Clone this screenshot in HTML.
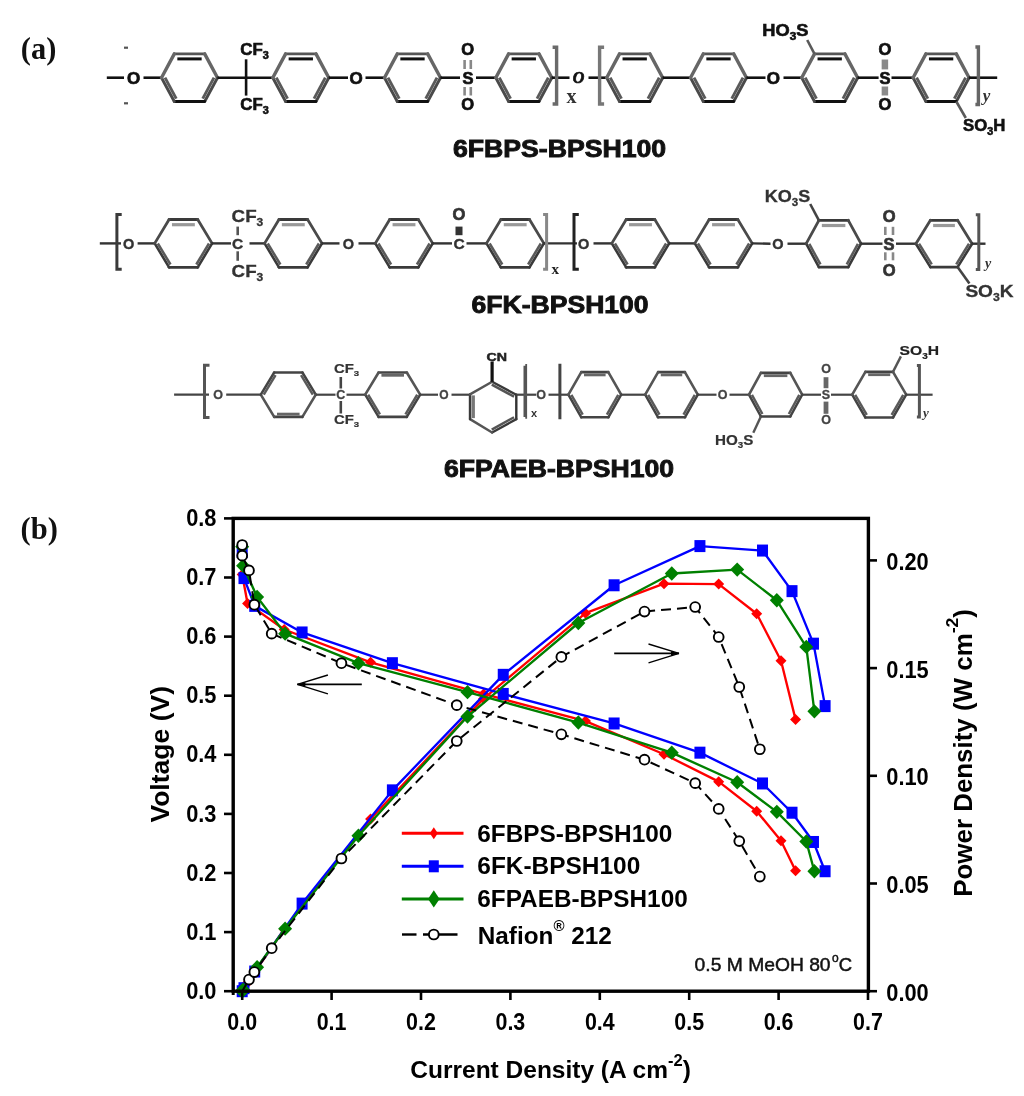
<!DOCTYPE html>
<html><head><meta charset="utf-8"><title>Figure</title>
<style>html,body{margin:0;padding:0;background:#fff;}svg{display:block;filter:blur(0.3px);}</style>
</head><body>
<svg width="1024" height="1096" viewBox="0 0 1024 1096">
<rect x="0" y="0" width="1024" height="1096" fill="#fff"/>
<text x="20.8" y="59" font-family="'Liberation Serif', 'Times New Roman', serif" font-size="31.5" font-weight="bold" text-anchor="start" fill="#111" textLength="35.5" lengthAdjust="spacingAndGlyphs">(a)</text>
<text x="20.5" y="539.4" font-family="'Liberation Serif', 'Times New Roman', serif" font-size="31.5" font-weight="bold" text-anchor="start" fill="#111" textLength="37.3" lengthAdjust="spacingAndGlyphs">(b)</text>
<line x1="106.8" y1="77.7" x2="124" y2="77.7" stroke="#111" stroke-width="2.6" stroke-linecap="butt"/>
<rect x="124" y="46.6" width="4" height="2.2" fill="#555"/>
<rect x="124" y="102.2" width="4" height="2.2" fill="#555"/>
<text x="133.5" y="83.82" font-family="'Liberation Sans', Arial, sans-serif" font-size="17" font-weight="bold" text-anchor="middle" fill="#111" stroke="#111" stroke-width="0.7">O</text>
<line x1="143.5" y1="77.7" x2="161.5" y2="77.7" stroke="#111" stroke-width="2.6" stroke-linecap="butt"/>
<line x1="174.3" y1="53.9" x2="204.7" y2="53.9" stroke="#555" stroke-width="2.8" stroke-linecap="round"/>
<line x1="177.34" y1="58.9" x2="201.66" y2="58.9" stroke="#111" stroke-width="3" stroke-linecap="butt"/>
<line x1="204.7" y1="53.9" x2="217.5" y2="77.7" stroke="#666" stroke-width="3.4" stroke-linecap="round"/>
<line x1="217.5" y1="77.7" x2="204.7" y2="101.5" stroke="#4a4a4a" stroke-width="2.9" stroke-linecap="round"/>
<line x1="214" y1="77.66" x2="202.74" y2="98.6" stroke="#5a5a5a" stroke-width="2.9" stroke-linecap="butt"/>
<line x1="204.7" y1="101.5" x2="174.3" y2="101.5" stroke="#111" stroke-width="2.8" stroke-linecap="round"/>
<line x1="174.3" y1="101.5" x2="161.5" y2="77.7" stroke="#4a4a4a" stroke-width="2.9" stroke-linecap="round"/>
<line x1="176.26" y1="98.6" x2="165" y2="77.66" stroke="#5a5a5a" stroke-width="2.9" stroke-linecap="butt"/>
<line x1="161.5" y1="77.7" x2="174.3" y2="53.9" stroke="#666" stroke-width="3.4" stroke-linecap="round"/>
<line x1="217.5" y1="77.7" x2="272.8" y2="77.7" stroke="#111" stroke-width="2.6" stroke-linecap="butt"/>
<line x1="246.1" y1="59.3" x2="246.1" y2="95.6" stroke="#111" stroke-width="2.6" stroke-linecap="butt"/>
<text x="240.3" y="54.5" font-family="'Liberation Sans', Arial, sans-serif" font-size="16" font-weight="bold" fill="#111" stroke="#111" stroke-width="0.6" text-anchor="start" textLength="28.5" lengthAdjust="spacingAndGlyphs"><tspan dy="0">CF</tspan><tspan dy="4.16" font-size="10.24">3</tspan></text>
<text x="240.3" y="110.2" font-family="'Liberation Sans', Arial, sans-serif" font-size="16" font-weight="bold" fill="#111" stroke="#111" stroke-width="0.6" text-anchor="start" textLength="28.5" lengthAdjust="spacingAndGlyphs"><tspan dy="0">CF</tspan><tspan dy="4.16" font-size="10.24">3</tspan></text>
<line x1="285.6" y1="53.9" x2="316" y2="53.9" stroke="#555" stroke-width="2.8" stroke-linecap="round"/>
<line x1="288.64" y1="58.9" x2="312.96" y2="58.9" stroke="#111" stroke-width="3" stroke-linecap="butt"/>
<line x1="316" y1="53.9" x2="328.8" y2="77.7" stroke="#666" stroke-width="3.4" stroke-linecap="round"/>
<line x1="328.8" y1="77.7" x2="316" y2="101.5" stroke="#4a4a4a" stroke-width="2.9" stroke-linecap="round"/>
<line x1="325.3" y1="77.66" x2="314.04" y2="98.6" stroke="#5a5a5a" stroke-width="2.9" stroke-linecap="butt"/>
<line x1="316" y1="101.5" x2="285.6" y2="101.5" stroke="#111" stroke-width="2.8" stroke-linecap="round"/>
<line x1="285.6" y1="101.5" x2="272.8" y2="77.7" stroke="#4a4a4a" stroke-width="2.9" stroke-linecap="round"/>
<line x1="287.56" y1="98.6" x2="276.3" y2="77.66" stroke="#5a5a5a" stroke-width="2.9" stroke-linecap="butt"/>
<line x1="272.8" y1="77.7" x2="285.6" y2="53.9" stroke="#666" stroke-width="3.4" stroke-linecap="round"/>
<line x1="328.8" y1="77.7" x2="348" y2="77.7" stroke="#111" stroke-width="2.6" stroke-linecap="butt"/>
<text x="356" y="83.82" font-family="'Liberation Sans', Arial, sans-serif" font-size="17" font-weight="bold" text-anchor="middle" fill="#111" stroke="#111" stroke-width="0.7">O</text>
<line x1="365.5" y1="77.7" x2="384.5" y2="77.7" stroke="#111" stroke-width="2.6" stroke-linecap="butt"/>
<line x1="397.3" y1="53.9" x2="427.7" y2="53.9" stroke="#555" stroke-width="2.8" stroke-linecap="round"/>
<line x1="400.34" y1="58.9" x2="424.66" y2="58.9" stroke="#111" stroke-width="3" stroke-linecap="butt"/>
<line x1="427.7" y1="53.9" x2="440.5" y2="77.7" stroke="#666" stroke-width="3.4" stroke-linecap="round"/>
<line x1="440.5" y1="77.7" x2="427.7" y2="101.5" stroke="#4a4a4a" stroke-width="2.9" stroke-linecap="round"/>
<line x1="437" y1="77.66" x2="425.74" y2="98.6" stroke="#5a5a5a" stroke-width="2.9" stroke-linecap="butt"/>
<line x1="427.7" y1="101.5" x2="397.3" y2="101.5" stroke="#111" stroke-width="2.8" stroke-linecap="round"/>
<line x1="397.3" y1="101.5" x2="384.5" y2="77.7" stroke="#4a4a4a" stroke-width="2.9" stroke-linecap="round"/>
<line x1="399.26" y1="98.6" x2="388" y2="77.66" stroke="#5a5a5a" stroke-width="2.9" stroke-linecap="butt"/>
<line x1="384.5" y1="77.7" x2="397.3" y2="53.9" stroke="#666" stroke-width="3.4" stroke-linecap="round"/>
<line x1="440.5" y1="77.7" x2="460" y2="77.7" stroke="#111" stroke-width="2.6" stroke-linecap="butt"/>
<text x="468" y="83.64" font-family="'Liberation Sans', Arial, sans-serif" font-size="16.5" font-weight="bold" text-anchor="middle" fill="#111" stroke="#111" stroke-width="0.7">S</text>
<text x="467.7" y="55.24" font-family="'Liberation Sans', Arial, sans-serif" font-size="16.5" font-weight="bold" text-anchor="middle" fill="#111" stroke="#111" stroke-width="0.7">O</text>
<text x="467.7" y="109.94" font-family="'Liberation Sans', Arial, sans-serif" font-size="16.5" font-weight="bold" text-anchor="middle" fill="#111" stroke="#111" stroke-width="0.7">O</text>
<line x1="464.6" y1="60" x2="464.6" y2="69" stroke="#888" stroke-width="2.6" stroke-linecap="butt"/>
<line x1="464.6" y1="87" x2="464.6" y2="95.5" stroke="#888" stroke-width="2.6" stroke-linecap="butt"/>
<line x1="470.8" y1="60" x2="470.8" y2="69" stroke="#888" stroke-width="2.6" stroke-linecap="butt"/>
<line x1="470.8" y1="87" x2="470.8" y2="95.5" stroke="#888" stroke-width="2.6" stroke-linecap="butt"/>
<line x1="476" y1="77.7" x2="495.8" y2="77.7" stroke="#111" stroke-width="2.6" stroke-linecap="butt"/>
<line x1="508.6" y1="53.9" x2="539" y2="53.9" stroke="#555" stroke-width="2.8" stroke-linecap="round"/>
<line x1="511.64" y1="58.9" x2="535.96" y2="58.9" stroke="#111" stroke-width="3" stroke-linecap="butt"/>
<line x1="539" y1="53.9" x2="551.8" y2="77.7" stroke="#666" stroke-width="3.4" stroke-linecap="round"/>
<line x1="551.8" y1="77.7" x2="539" y2="101.5" stroke="#4a4a4a" stroke-width="2.9" stroke-linecap="round"/>
<line x1="548.3" y1="77.66" x2="537.04" y2="98.6" stroke="#5a5a5a" stroke-width="2.9" stroke-linecap="butt"/>
<line x1="539" y1="101.5" x2="508.6" y2="101.5" stroke="#111" stroke-width="2.8" stroke-linecap="round"/>
<line x1="508.6" y1="101.5" x2="495.8" y2="77.7" stroke="#4a4a4a" stroke-width="2.9" stroke-linecap="round"/>
<line x1="510.56" y1="98.6" x2="499.3" y2="77.66" stroke="#5a5a5a" stroke-width="2.9" stroke-linecap="butt"/>
<line x1="495.8" y1="77.7" x2="508.6" y2="53.9" stroke="#666" stroke-width="3.4" stroke-linecap="round"/>
<line x1="551.8" y1="77.7" x2="569.5" y2="77.7" stroke="#111" stroke-width="2.6" stroke-linecap="butt"/>
<path d="M552.6 47.3 H556.6 V104 H552.6" fill="none" stroke="#6a6a6a" stroke-width="3.4"/>
<text x="566.5" y="103.2" font-family="'Liberation Serif', 'Times New Roman', serif" font-size="20" font-weight="bold" text-anchor="start" fill="#333">x</text>
<text x="578.5" y="83.46" font-family="'Liberation Serif', 'Times New Roman', serif" font-size="16" font-weight="bold" text-anchor="middle" fill="#111" font-style="italic" stroke="#111" stroke-width="0.7">O</text>
<line x1="588.5" y1="77.7" x2="607" y2="77.7" stroke="#111" stroke-width="2.6" stroke-linecap="butt"/>
<path d="M604.1 47.3 H599.6 V104 H604.1" fill="none" stroke="#777" stroke-width="3.4"/>
<line x1="619.5" y1="53.9" x2="649.9" y2="53.9" stroke="#555" stroke-width="2.8" stroke-linecap="round"/>
<line x1="622.54" y1="58.9" x2="646.86" y2="58.9" stroke="#111" stroke-width="3" stroke-linecap="butt"/>
<line x1="649.9" y1="53.9" x2="662.7" y2="77.7" stroke="#666" stroke-width="3.4" stroke-linecap="round"/>
<line x1="662.7" y1="77.7" x2="649.9" y2="101.5" stroke="#4a4a4a" stroke-width="2.9" stroke-linecap="round"/>
<line x1="659.2" y1="77.66" x2="647.94" y2="98.6" stroke="#5a5a5a" stroke-width="2.9" stroke-linecap="butt"/>
<line x1="649.9" y1="101.5" x2="619.5" y2="101.5" stroke="#111" stroke-width="2.8" stroke-linecap="round"/>
<line x1="619.5" y1="101.5" x2="606.7" y2="77.7" stroke="#4a4a4a" stroke-width="2.9" stroke-linecap="round"/>
<line x1="621.46" y1="98.6" x2="610.2" y2="77.66" stroke="#5a5a5a" stroke-width="2.9" stroke-linecap="butt"/>
<line x1="606.7" y1="77.7" x2="619.5" y2="53.9" stroke="#666" stroke-width="3.4" stroke-linecap="round"/>
<line x1="662.7" y1="77.7" x2="690.5" y2="77.7" stroke="#111" stroke-width="2.6" stroke-linecap="butt"/>
<line x1="703.3" y1="53.9" x2="733.7" y2="53.9" stroke="#555" stroke-width="2.8" stroke-linecap="round"/>
<line x1="706.34" y1="58.9" x2="730.66" y2="58.9" stroke="#111" stroke-width="3" stroke-linecap="butt"/>
<line x1="733.7" y1="53.9" x2="746.5" y2="77.7" stroke="#666" stroke-width="3.4" stroke-linecap="round"/>
<line x1="746.5" y1="77.7" x2="733.7" y2="101.5" stroke="#4a4a4a" stroke-width="2.9" stroke-linecap="round"/>
<line x1="743" y1="77.66" x2="731.74" y2="98.6" stroke="#5a5a5a" stroke-width="2.9" stroke-linecap="butt"/>
<line x1="733.7" y1="101.5" x2="703.3" y2="101.5" stroke="#111" stroke-width="2.8" stroke-linecap="round"/>
<line x1="703.3" y1="101.5" x2="690.5" y2="77.7" stroke="#4a4a4a" stroke-width="2.9" stroke-linecap="round"/>
<line x1="705.26" y1="98.6" x2="694" y2="77.66" stroke="#5a5a5a" stroke-width="2.9" stroke-linecap="butt"/>
<line x1="690.5" y1="77.7" x2="703.3" y2="53.9" stroke="#666" stroke-width="3.4" stroke-linecap="round"/>
<line x1="746.5" y1="77.7" x2="765.5" y2="77.7" stroke="#111" stroke-width="2.6" stroke-linecap="butt"/>
<text x="773.4" y="83.82" font-family="'Liberation Sans', Arial, sans-serif" font-size="17" font-weight="bold" text-anchor="middle" fill="#111" stroke="#111" stroke-width="0.7">O</text>
<line x1="783.5" y1="77.7" x2="802" y2="77.7" stroke="#111" stroke-width="2.6" stroke-linecap="butt"/>
<line x1="814.5" y1="53.9" x2="844.9" y2="53.9" stroke="#555" stroke-width="2.8" stroke-linecap="round"/>
<line x1="817.54" y1="58.9" x2="841.86" y2="58.9" stroke="#111" stroke-width="3" stroke-linecap="butt"/>
<line x1="844.9" y1="53.9" x2="857.7" y2="77.7" stroke="#666" stroke-width="3.4" stroke-linecap="round"/>
<line x1="857.7" y1="77.7" x2="844.9" y2="101.5" stroke="#4a4a4a" stroke-width="2.9" stroke-linecap="round"/>
<line x1="854.2" y1="77.66" x2="842.94" y2="98.6" stroke="#5a5a5a" stroke-width="2.9" stroke-linecap="butt"/>
<line x1="844.9" y1="101.5" x2="814.5" y2="101.5" stroke="#111" stroke-width="2.8" stroke-linecap="round"/>
<line x1="814.5" y1="101.5" x2="801.7" y2="77.7" stroke="#4a4a4a" stroke-width="2.9" stroke-linecap="round"/>
<line x1="816.46" y1="98.6" x2="805.2" y2="77.66" stroke="#5a5a5a" stroke-width="2.9" stroke-linecap="butt"/>
<line x1="801.7" y1="77.7" x2="814.5" y2="53.9" stroke="#666" stroke-width="3.4" stroke-linecap="round"/>
<line x1="814.5" y1="53.9" x2="807.2" y2="40" stroke="#5a5a5a" stroke-width="2.6" stroke-linecap="butt"/>
<text x="762.3" y="36.2" font-family="'Liberation Sans', Arial, sans-serif" font-size="16" font-weight="bold" fill="#111" stroke="#111" stroke-width="0.6" text-anchor="start" textLength="46" lengthAdjust="spacingAndGlyphs"><tspan dy="0">HO</tspan><tspan dy="4.16" font-size="10.24">3</tspan><tspan dy="-4.16">S</tspan></text>
<line x1="857.7" y1="77.7" x2="878.6" y2="77.7" stroke="#111" stroke-width="2.6" stroke-linecap="butt"/>
<text x="884.9" y="83.64" font-family="'Liberation Sans', Arial, sans-serif" font-size="16.5" font-weight="bold" text-anchor="middle" fill="#111" stroke="#111" stroke-width="0.7">S</text>
<text x="884.9" y="54.74" font-family="'Liberation Sans', Arial, sans-serif" font-size="16.5" font-weight="bold" text-anchor="middle" fill="#111" stroke="#111" stroke-width="0.7">O</text>
<text x="884.9" y="109.54" font-family="'Liberation Sans', Arial, sans-serif" font-size="16.5" font-weight="bold" text-anchor="middle" fill="#111" stroke="#111" stroke-width="0.7">O</text>
<line x1="884.9" y1="59.5" x2="884.9" y2="69.4" stroke="#8a8a8a" stroke-width="6.5" stroke-linecap="butt"/>
<line x1="884.9" y1="86.5" x2="884.9" y2="95.5" stroke="#8a8a8a" stroke-width="6.5" stroke-linecap="butt"/>
<line x1="891.5" y1="77.7" x2="913" y2="77.7" stroke="#111" stroke-width="2.6" stroke-linecap="butt"/>
<line x1="925.9" y1="53.9" x2="956.3" y2="53.9" stroke="#555" stroke-width="2.8" stroke-linecap="round"/>
<line x1="928.94" y1="58.9" x2="953.26" y2="58.9" stroke="#111" stroke-width="3" stroke-linecap="butt"/>
<line x1="956.3" y1="53.9" x2="969.1" y2="77.7" stroke="#666" stroke-width="3.4" stroke-linecap="round"/>
<line x1="969.1" y1="77.7" x2="956.3" y2="101.5" stroke="#4a4a4a" stroke-width="2.9" stroke-linecap="round"/>
<line x1="965.6" y1="77.66" x2="954.34" y2="98.6" stroke="#5a5a5a" stroke-width="2.9" stroke-linecap="butt"/>
<line x1="956.3" y1="101.5" x2="925.9" y2="101.5" stroke="#111" stroke-width="2.8" stroke-linecap="round"/>
<line x1="925.9" y1="101.5" x2="913.1" y2="77.7" stroke="#4a4a4a" stroke-width="2.9" stroke-linecap="round"/>
<line x1="927.86" y1="98.6" x2="916.6" y2="77.66" stroke="#5a5a5a" stroke-width="2.9" stroke-linecap="butt"/>
<line x1="913.1" y1="77.7" x2="925.9" y2="53.9" stroke="#666" stroke-width="3.4" stroke-linecap="round"/>
<line x1="956.3" y1="101.5" x2="965.8" y2="118" stroke="#5a5a5a" stroke-width="2.6" stroke-linecap="butt"/>
<text x="963.1" y="130.6" font-family="'Liberation Sans', Arial, sans-serif" font-size="16" font-weight="bold" fill="#111" stroke="#111" stroke-width="0.6" text-anchor="start" textLength="42.2" lengthAdjust="spacingAndGlyphs"><tspan dy="0">SO</tspan><tspan dy="4.16" font-size="10.24">3</tspan><tspan dy="-4.16">H</tspan></text>
<line x1="969.1" y1="77.7" x2="997.2" y2="77.7" stroke="#111" stroke-width="2.6" stroke-linecap="butt"/>
<path d="M975.4 47 H978.4 V104.5 H975.4" fill="none" stroke="#666" stroke-width="3.4"/>
<text x="982.8" y="100.5" font-family="'Liberation Serif', 'Times New Roman', serif" font-size="17" font-weight="bold" text-anchor="start" fill="#333" font-style="italic">y</text>
<text x="452.9" y="156.6" font-family="'Liberation Sans', Arial, sans-serif" font-size="24" font-weight="bold" text-anchor="start" fill="#111" textLength="213.3" lengthAdjust="spacingAndGlyphs" stroke="#111" stroke-width="0.9">6FBPS-BPSH100</text>
<line x1="99.8" y1="243.4" x2="121" y2="243.4" stroke="#333" stroke-width="2.4" stroke-linecap="butt"/>
<path d="M121.7 214.4 H116.9 V269.3 H121.7" fill="none" stroke="#3a3a3a" stroke-width="3"/>
<text x="128.6" y="248.62" font-family="'Liberation Sans', Arial, sans-serif" font-size="14.5" font-weight="bold" text-anchor="middle" fill="#333" stroke="#333" stroke-width="0.4">O</text>
<line x1="137.6" y1="243.4" x2="155" y2="243.4" stroke="#333" stroke-width="2.4" stroke-linecap="butt"/>
<line x1="169.1" y1="219.5" x2="197.7" y2="219.5" stroke="#3a3a3a" stroke-width="2.8" stroke-linecap="round"/>
<line x1="171.96" y1="224.7" x2="194.84" y2="224.7" stroke="#999" stroke-width="3.2" stroke-linecap="butt"/>
<line x1="197.7" y1="219.5" x2="212.1" y2="243.4" stroke="#4a4a4a" stroke-width="2.8" stroke-linecap="round"/>
<line x1="212.1" y1="243.4" x2="197.7" y2="267.3" stroke="#3a3a3a" stroke-width="2.6" stroke-linecap="round"/>
<line x1="209.01" y1="243.49" x2="196.34" y2="264.52" stroke="#5a5a5a" stroke-width="2.6" stroke-linecap="butt"/>
<line x1="197.7" y1="267.3" x2="169.1" y2="267.3" stroke="#3a3a3a" stroke-width="2.8" stroke-linecap="round"/>
<line x1="169.1" y1="267.3" x2="154.7" y2="243.4" stroke="#3a3a3a" stroke-width="2.6" stroke-linecap="round"/>
<line x1="170.46" y1="264.52" x2="157.79" y2="243.49" stroke="#5a5a5a" stroke-width="2.6" stroke-linecap="butt"/>
<line x1="154.7" y1="243.4" x2="169.1" y2="219.5" stroke="#4a4a4a" stroke-width="2.8" stroke-linecap="round"/>
<line x1="212" y1="243.4" x2="231" y2="243.4" stroke="#333" stroke-width="2.4" stroke-linecap="butt"/>
<text x="237.7" y="248.98" font-family="'Liberation Sans', Arial, sans-serif" font-size="15.5" font-weight="bold" text-anchor="middle" fill="#333" stroke="#333" stroke-width="0.4">C</text>
<line x1="237.7" y1="226.6" x2="237.7" y2="235.2" stroke="#555" stroke-width="2.6" stroke-linecap="butt"/>
<line x1="237.7" y1="251.3" x2="237.7" y2="260.8" stroke="#555" stroke-width="2.6" stroke-linecap="butt"/>
<text x="231.6" y="221.8" font-family="'Liberation Sans', Arial, sans-serif" font-size="17" font-weight="bold" fill="#333" stroke="#333" stroke-width="0.3" text-anchor="start" textLength="31.7" lengthAdjust="spacingAndGlyphs"><tspan dy="0">CF</tspan><tspan dy="4.42" font-size="10.88">3</tspan></text>
<text x="231.6" y="276.8" font-family="'Liberation Sans', Arial, sans-serif" font-size="17" font-weight="bold" fill="#333" stroke="#333" stroke-width="0.3" text-anchor="start" textLength="31.7" lengthAdjust="spacingAndGlyphs"><tspan dy="0">CF</tspan><tspan dy="4.42" font-size="10.88">3</tspan></text>
<line x1="249.5" y1="243.4" x2="264.8" y2="243.4" stroke="#333" stroke-width="2.4" stroke-linecap="butt"/>
<line x1="279" y1="219.5" x2="307.6" y2="219.5" stroke="#3a3a3a" stroke-width="2.8" stroke-linecap="round"/>
<line x1="281.86" y1="224.7" x2="304.74" y2="224.7" stroke="#999" stroke-width="3.2" stroke-linecap="butt"/>
<line x1="307.6" y1="219.5" x2="322" y2="243.4" stroke="#4a4a4a" stroke-width="2.8" stroke-linecap="round"/>
<line x1="322" y1="243.4" x2="307.6" y2="267.3" stroke="#3a3a3a" stroke-width="2.6" stroke-linecap="round"/>
<line x1="318.91" y1="243.49" x2="306.24" y2="264.52" stroke="#5a5a5a" stroke-width="2.6" stroke-linecap="butt"/>
<line x1="307.6" y1="267.3" x2="279" y2="267.3" stroke="#3a3a3a" stroke-width="2.8" stroke-linecap="round"/>
<line x1="279" y1="267.3" x2="264.6" y2="243.4" stroke="#3a3a3a" stroke-width="2.6" stroke-linecap="round"/>
<line x1="280.36" y1="264.52" x2="267.69" y2="243.49" stroke="#5a5a5a" stroke-width="2.6" stroke-linecap="butt"/>
<line x1="264.6" y1="243.4" x2="279" y2="219.5" stroke="#4a4a4a" stroke-width="2.8" stroke-linecap="round"/>
<line x1="322" y1="243.4" x2="339.5" y2="243.4" stroke="#333" stroke-width="2.4" stroke-linecap="butt"/>
<text x="348.5" y="248.62" font-family="'Liberation Sans', Arial, sans-serif" font-size="14.5" font-weight="bold" text-anchor="middle" fill="#333" stroke="#333" stroke-width="0.4">O</text>
<line x1="358.5" y1="243.4" x2="376" y2="243.4" stroke="#333" stroke-width="2.4" stroke-linecap="butt"/>
<line x1="389.7" y1="219.5" x2="418.3" y2="219.5" stroke="#3a3a3a" stroke-width="2.8" stroke-linecap="round"/>
<line x1="392.56" y1="224.7" x2="415.44" y2="224.7" stroke="#999" stroke-width="3.2" stroke-linecap="butt"/>
<line x1="418.3" y1="219.5" x2="432.7" y2="243.4" stroke="#4a4a4a" stroke-width="2.8" stroke-linecap="round"/>
<line x1="432.7" y1="243.4" x2="418.3" y2="267.3" stroke="#3a3a3a" stroke-width="2.6" stroke-linecap="round"/>
<line x1="429.61" y1="243.49" x2="416.94" y2="264.52" stroke="#5a5a5a" stroke-width="2.6" stroke-linecap="butt"/>
<line x1="418.3" y1="267.3" x2="389.7" y2="267.3" stroke="#3a3a3a" stroke-width="2.8" stroke-linecap="round"/>
<line x1="389.7" y1="267.3" x2="375.3" y2="243.4" stroke="#3a3a3a" stroke-width="2.6" stroke-linecap="round"/>
<line x1="391.06" y1="264.52" x2="378.39" y2="243.49" stroke="#5a5a5a" stroke-width="2.6" stroke-linecap="butt"/>
<line x1="375.3" y1="243.4" x2="389.7" y2="219.5" stroke="#4a4a4a" stroke-width="2.8" stroke-linecap="round"/>
<line x1="432.5" y1="243.4" x2="452" y2="243.4" stroke="#333" stroke-width="2.4" stroke-linecap="butt"/>
<text x="459" y="248.98" font-family="'Liberation Sans', Arial, sans-serif" font-size="15.5" font-weight="bold" text-anchor="middle" fill="#333" stroke="#333" stroke-width="0.4">C</text>
<text x="458.9" y="220.34" font-family="'Liberation Sans', Arial, sans-serif" font-size="16.5" font-weight="bold" text-anchor="middle" fill="#333" stroke="#333" stroke-width="0.7">O</text>
<rect x="455.5" y="226.6" width="7" height="8.6" fill="#333"/>
<line x1="466.5" y1="243.4" x2="487" y2="243.4" stroke="#333" stroke-width="2.4" stroke-linecap="butt"/>
<line x1="500.9" y1="219.5" x2="529.5" y2="219.5" stroke="#3a3a3a" stroke-width="2.8" stroke-linecap="round"/>
<line x1="503.76" y1="224.7" x2="526.64" y2="224.7" stroke="#999" stroke-width="3.2" stroke-linecap="butt"/>
<line x1="529.5" y1="219.5" x2="543.9" y2="243.4" stroke="#4a4a4a" stroke-width="2.8" stroke-linecap="round"/>
<line x1="543.9" y1="243.4" x2="529.5" y2="267.3" stroke="#3a3a3a" stroke-width="2.6" stroke-linecap="round"/>
<line x1="540.81" y1="243.49" x2="528.14" y2="264.52" stroke="#5a5a5a" stroke-width="2.6" stroke-linecap="butt"/>
<line x1="529.5" y1="267.3" x2="500.9" y2="267.3" stroke="#3a3a3a" stroke-width="2.8" stroke-linecap="round"/>
<line x1="500.9" y1="267.3" x2="486.5" y2="243.4" stroke="#3a3a3a" stroke-width="2.6" stroke-linecap="round"/>
<line x1="502.26" y1="264.52" x2="489.59" y2="243.49" stroke="#5a5a5a" stroke-width="2.6" stroke-linecap="butt"/>
<line x1="486.5" y1="243.4" x2="500.9" y2="219.5" stroke="#4a4a4a" stroke-width="2.8" stroke-linecap="round"/>
<line x1="543.8" y1="243.4" x2="577" y2="243.4" stroke="#333" stroke-width="2.4" stroke-linecap="butt"/>
<path d="M543.1 214.4 H546.6 V269.3 H543.1" fill="none" stroke="#888" stroke-width="3"/>
<text x="551.5" y="274.2" font-family="'Liberation Serif', 'Times New Roman', serif" font-size="15" font-weight="bold" text-anchor="start" fill="#222">x</text>
<path d="M578.8 214.4 H574 V269.3 H578.8" fill="none" stroke="#222" stroke-width="3"/>
<text x="583.7" y="248.62" font-family="'Liberation Sans', Arial, sans-serif" font-size="14.5" font-weight="bold" text-anchor="middle" fill="#333" stroke="#333" stroke-width="0.4">O</text>
<line x1="593.5" y1="243.4" x2="612" y2="243.4" stroke="#333" stroke-width="2.4" stroke-linecap="butt"/>
<line x1="626.2" y1="219.5" x2="654.8" y2="219.5" stroke="#3a3a3a" stroke-width="2.8" stroke-linecap="round"/>
<line x1="629.06" y1="224.7" x2="651.94" y2="224.7" stroke="#999" stroke-width="3.2" stroke-linecap="butt"/>
<line x1="654.8" y1="219.5" x2="669.2" y2="243.4" stroke="#4a4a4a" stroke-width="2.8" stroke-linecap="round"/>
<line x1="669.2" y1="243.4" x2="654.8" y2="267.3" stroke="#3a3a3a" stroke-width="2.6" stroke-linecap="round"/>
<line x1="666.11" y1="243.49" x2="653.44" y2="264.52" stroke="#5a5a5a" stroke-width="2.6" stroke-linecap="butt"/>
<line x1="654.8" y1="267.3" x2="626.2" y2="267.3" stroke="#3a3a3a" stroke-width="2.8" stroke-linecap="round"/>
<line x1="626.2" y1="267.3" x2="611.8" y2="243.4" stroke="#3a3a3a" stroke-width="2.6" stroke-linecap="round"/>
<line x1="627.56" y1="264.52" x2="614.89" y2="243.49" stroke="#5a5a5a" stroke-width="2.6" stroke-linecap="butt"/>
<line x1="611.8" y1="243.4" x2="626.2" y2="219.5" stroke="#4a4a4a" stroke-width="2.8" stroke-linecap="round"/>
<line x1="669" y1="243.4" x2="695" y2="243.4" stroke="#333" stroke-width="2.4" stroke-linecap="butt"/>
<line x1="709.2" y1="219.5" x2="737.8" y2="219.5" stroke="#3a3a3a" stroke-width="2.8" stroke-linecap="round"/>
<line x1="712.06" y1="224.7" x2="734.94" y2="224.7" stroke="#999" stroke-width="3.2" stroke-linecap="butt"/>
<line x1="737.8" y1="219.5" x2="752.2" y2="243.4" stroke="#4a4a4a" stroke-width="2.8" stroke-linecap="round"/>
<line x1="752.2" y1="243.4" x2="737.8" y2="267.3" stroke="#3a3a3a" stroke-width="2.6" stroke-linecap="round"/>
<line x1="749.11" y1="243.49" x2="736.44" y2="264.52" stroke="#5a5a5a" stroke-width="2.6" stroke-linecap="butt"/>
<line x1="737.8" y1="267.3" x2="709.2" y2="267.3" stroke="#3a3a3a" stroke-width="2.8" stroke-linecap="round"/>
<line x1="709.2" y1="267.3" x2="694.8" y2="243.4" stroke="#3a3a3a" stroke-width="2.6" stroke-linecap="round"/>
<line x1="710.56" y1="264.52" x2="697.89" y2="243.49" stroke="#5a5a5a" stroke-width="2.6" stroke-linecap="butt"/>
<line x1="694.8" y1="243.4" x2="709.2" y2="219.5" stroke="#4a4a4a" stroke-width="2.8" stroke-linecap="round"/>
<line x1="752" y1="243.4" x2="770.5" y2="243.7" stroke="#333" stroke-width="2.4" stroke-linecap="butt"/>
<text x="778" y="248.92" font-family="'Liberation Sans', Arial, sans-serif" font-size="14.5" font-weight="bold" text-anchor="middle" fill="#333" stroke="#333" stroke-width="0.4">O</text>
<line x1="787.5" y1="243.7" x2="806.5" y2="243.7" stroke="#333" stroke-width="2.4" stroke-linecap="butt"/>
<line x1="818.9" y1="220.3" x2="848.3" y2="220.3" stroke="#3a3a3a" stroke-width="2.8" stroke-linecap="round"/>
<line x1="821.84" y1="225.5" x2="845.36" y2="225.5" stroke="#999" stroke-width="3.2" stroke-linecap="butt"/>
<line x1="848.3" y1="220.3" x2="861" y2="243.7" stroke="#4a4a4a" stroke-width="2.8" stroke-linecap="round"/>
<line x1="861" y1="243.7" x2="848.3" y2="267.1" stroke="#3a3a3a" stroke-width="2.6" stroke-linecap="round"/>
<line x1="857.95" y1="243.86" x2="846.78" y2="264.46" stroke="#5a5a5a" stroke-width="2.6" stroke-linecap="butt"/>
<line x1="848.3" y1="267.1" x2="818.9" y2="267.1" stroke="#3a3a3a" stroke-width="2.8" stroke-linecap="round"/>
<line x1="818.9" y1="267.1" x2="806.2" y2="243.7" stroke="#3a3a3a" stroke-width="2.6" stroke-linecap="round"/>
<line x1="820.42" y1="264.46" x2="809.25" y2="243.86" stroke="#5a5a5a" stroke-width="2.6" stroke-linecap="butt"/>
<line x1="806.2" y1="243.7" x2="818.9" y2="220.3" stroke="#4a4a4a" stroke-width="2.8" stroke-linecap="round"/>
<line x1="818.9" y1="220.3" x2="810.2" y2="204" stroke="#444" stroke-width="2.6" stroke-linecap="butt"/>
<text x="764.7" y="201.5" font-family="'Liberation Sans', Arial, sans-serif" font-size="16" font-weight="bold" fill="#333" stroke="#333" stroke-width="0.3" text-anchor="start" textLength="45.5" lengthAdjust="spacingAndGlyphs"><tspan dy="0">KO</tspan><tspan dy="4.16" font-size="10.24">3</tspan><tspan dy="-4.16">S</tspan></text>
<line x1="861" y1="243.7" x2="882.5" y2="243.7" stroke="#333" stroke-width="2.4" stroke-linecap="butt"/>
<text x="889.1" y="249.64" font-family="'Liberation Sans', Arial, sans-serif" font-size="16.5" font-weight="bold" text-anchor="middle" fill="#333" stroke="#333" stroke-width="0.7">S</text>
<text x="889.1" y="222.04" font-family="'Liberation Sans', Arial, sans-serif" font-size="16.5" font-weight="bold" text-anchor="middle" fill="#333" stroke="#333" stroke-width="0.7">O</text>
<text x="889.1" y="275.54" font-family="'Liberation Sans', Arial, sans-serif" font-size="16.5" font-weight="bold" text-anchor="middle" fill="#333" stroke="#333" stroke-width="0.7">O</text>
<line x1="885.3" y1="226.8" x2="885.3" y2="235" stroke="#888" stroke-width="2.6" stroke-linecap="butt"/>
<line x1="885.3" y1="252.3" x2="885.3" y2="260.3" stroke="#888" stroke-width="2.6" stroke-linecap="butt"/>
<line x1="893" y1="226.8" x2="893" y2="235" stroke="#888" stroke-width="2.6" stroke-linecap="butt"/>
<line x1="893" y1="252.3" x2="893" y2="260.3" stroke="#888" stroke-width="2.6" stroke-linecap="butt"/>
<line x1="896" y1="243.7" x2="916" y2="243.7" stroke="#333" stroke-width="2.4" stroke-linecap="butt"/>
<line x1="930.4" y1="220.3" x2="957.6" y2="220.3" stroke="#3a3a3a" stroke-width="2.8" stroke-linecap="round"/>
<line x1="933.12" y1="225.5" x2="954.88" y2="225.5" stroke="#999" stroke-width="3.2" stroke-linecap="butt"/>
<line x1="957.6" y1="220.3" x2="972.1" y2="243.7" stroke="#4a4a4a" stroke-width="2.8" stroke-linecap="round"/>
<line x1="972.1" y1="243.7" x2="957.6" y2="267.1" stroke="#3a3a3a" stroke-width="2.6" stroke-linecap="round"/>
<line x1="969.02" y1="243.73" x2="956.26" y2="264.33" stroke="#5a5a5a" stroke-width="2.6" stroke-linecap="butt"/>
<line x1="957.6" y1="267.1" x2="930.4" y2="267.1" stroke="#3a3a3a" stroke-width="2.8" stroke-linecap="round"/>
<line x1="930.4" y1="267.1" x2="915.9" y2="243.7" stroke="#3a3a3a" stroke-width="2.6" stroke-linecap="round"/>
<line x1="931.74" y1="264.33" x2="918.98" y2="243.73" stroke="#5a5a5a" stroke-width="2.6" stroke-linecap="butt"/>
<line x1="915.9" y1="243.7" x2="930.4" y2="220.3" stroke="#4a4a4a" stroke-width="2.8" stroke-linecap="round"/>
<line x1="957.6" y1="267.1" x2="969.4" y2="283.5" stroke="#444" stroke-width="2.6" stroke-linecap="butt"/>
<text x="965.4" y="296.5" font-family="'Liberation Sans', Arial, sans-serif" font-size="16" font-weight="bold" fill="#333" stroke="#333" stroke-width="0.3" text-anchor="start" textLength="48.2" lengthAdjust="spacingAndGlyphs"><tspan dy="0">SO</tspan><tspan dy="4.16" font-size="10.24">3</tspan><tspan dy="-4.16">K</tspan></text>
<line x1="972" y1="243.7" x2="985.5" y2="243.7" stroke="#333" stroke-width="2.4" stroke-linecap="butt"/>
<path d="M975.8 214.8 H978.8 V269.6 H975.8" fill="none" stroke="#555" stroke-width="3"/>
<text x="985" y="268.3" font-family="'Liberation Serif', 'Times New Roman', serif" font-size="14" font-weight="bold" text-anchor="start" fill="#333" font-style="italic">y</text>
<text x="471.6" y="312.8" font-family="'Liberation Sans', Arial, sans-serif" font-size="24" font-weight="bold" text-anchor="start" fill="#111" textLength="177" lengthAdjust="spacingAndGlyphs" stroke="#111" stroke-width="0.9">6FK-BPSH100</text>
<line x1="174.1" y1="394.7" x2="209" y2="394.7" stroke="#444" stroke-width="2.2" stroke-linecap="butt"/>
<path d="M209.5 365.2 H204.5 V417.4 H209.5" fill="none" stroke="#555" stroke-width="3"/>
<text x="218.2" y="399.2" font-family="'Liberation Sans', Arial, sans-serif" font-size="12.5" font-weight="bold" text-anchor="middle" fill="#444" stroke="#444" stroke-width="0.3">O</text>
<line x1="226.2" y1="394.7" x2="261" y2="394.7" stroke="#444" stroke-width="2.2" stroke-linecap="butt"/>
<line x1="274.2" y1="372.5" x2="302.4" y2="372.5" stroke="#444" stroke-width="2.6" stroke-linecap="round"/>
<line x1="302.4" y1="372.5" x2="315.8" y2="394.7" stroke="#444" stroke-width="2.5" stroke-linecap="round"/>
<line x1="301.06" y1="375.12" x2="312.86" y2="394.66" stroke="#5a5a5a" stroke-width="2.5" stroke-linecap="butt"/>
<line x1="315.8" y1="394.7" x2="302.4" y2="416.9" stroke="#555" stroke-width="2.6" stroke-linecap="round"/>
<line x1="302.4" y1="416.9" x2="274.2" y2="416.9" stroke="#444" stroke-width="2.6" stroke-linecap="round"/>
<line x1="299.58" y1="414.1" x2="277.02" y2="414.1" stroke="#666" stroke-width="2.8" stroke-linecap="butt"/>
<line x1="274.2" y1="416.9" x2="260.8" y2="394.7" stroke="#555" stroke-width="2.6" stroke-linecap="round"/>
<line x1="260.8" y1="394.7" x2="274.2" y2="372.5" stroke="#444" stroke-width="2.5" stroke-linecap="round"/>
<line x1="263.74" y1="394.66" x2="275.54" y2="375.12" stroke="#5a5a5a" stroke-width="2.5" stroke-linecap="butt"/>
<line x1="315.8" y1="394.7" x2="335.5" y2="394.7" stroke="#444" stroke-width="2.2" stroke-linecap="butt"/>
<text x="340.8" y="399.2" font-family="'Liberation Sans', Arial, sans-serif" font-size="12.5" font-weight="bold" text-anchor="middle" fill="#444" stroke="#444" stroke-width="0.3">C</text>
<line x1="340.8" y1="377" x2="340.8" y2="388.5" stroke="#444" stroke-width="2.6" stroke-linecap="butt"/>
<line x1="340.8" y1="401" x2="340.8" y2="413.5" stroke="#444" stroke-width="2.6" stroke-linecap="butt"/>
<text x="334" y="372.6" font-family="'Liberation Sans', Arial, sans-serif" font-size="12" font-weight="bold" fill="#333" stroke="#333" stroke-width="0.2" text-anchor="start" textLength="25.2" lengthAdjust="spacingAndGlyphs"><tspan dy="0">CF</tspan><tspan dy="3.12" font-size="7.68">3</tspan></text>
<text x="334" y="423.6" font-family="'Liberation Sans', Arial, sans-serif" font-size="12" font-weight="bold" fill="#333" stroke="#333" stroke-width="0.2" text-anchor="start" textLength="25.2" lengthAdjust="spacingAndGlyphs"><tspan dy="0">CF</tspan><tspan dy="3.12" font-size="7.68">3</tspan></text>
<line x1="346.5" y1="394.7" x2="365.8" y2="394.7" stroke="#444" stroke-width="2.2" stroke-linecap="butt"/>
<line x1="378.6" y1="372.5" x2="406.8" y2="372.5" stroke="#444" stroke-width="2.6" stroke-linecap="round"/>
<line x1="381.42" y1="375.3" x2="403.98" y2="375.3" stroke="#666" stroke-width="2.8" stroke-linecap="butt"/>
<line x1="406.8" y1="372.5" x2="420.2" y2="394.7" stroke="#555" stroke-width="2.6" stroke-linecap="round"/>
<line x1="420.2" y1="394.7" x2="406.8" y2="416.9" stroke="#444" stroke-width="2.5" stroke-linecap="round"/>
<line x1="417.26" y1="394.74" x2="405.46" y2="414.28" stroke="#5a5a5a" stroke-width="2.5" stroke-linecap="butt"/>
<line x1="406.8" y1="416.9" x2="378.6" y2="416.9" stroke="#444" stroke-width="2.6" stroke-linecap="round"/>
<line x1="378.6" y1="416.9" x2="365.2" y2="394.7" stroke="#444" stroke-width="2.5" stroke-linecap="round"/>
<line x1="379.94" y1="414.28" x2="368.14" y2="394.74" stroke="#5a5a5a" stroke-width="2.5" stroke-linecap="butt"/>
<line x1="365.2" y1="394.7" x2="378.6" y2="372.5" stroke="#555" stroke-width="2.6" stroke-linecap="round"/>
<line x1="420.2" y1="394.7" x2="438" y2="394.7" stroke="#444" stroke-width="2.2" stroke-linecap="butt"/>
<text x="444" y="399.02" font-family="'Liberation Sans', Arial, sans-serif" font-size="12" font-weight="bold" text-anchor="middle" fill="#444" stroke="#444" stroke-width="0.3">O</text>
<line x1="451.5" y1="394.7" x2="471" y2="394.7" stroke="#444" stroke-width="2.2" stroke-linecap="butt"/>
<line x1="492.1" y1="381.8" x2="516.3" y2="394.8" stroke="#3a3a3a" stroke-width="2.4" stroke-linecap="round"/>
<line x1="491.79" y1="384.7" x2="514.05" y2="396.66" stroke="#555" stroke-width="2.5" stroke-linecap="butt"/>
<line x1="516.3" y1="394.8" x2="516.3" y2="419.1" stroke="#333" stroke-width="2.4" stroke-linecap="round"/>
<line x1="516.3" y1="419.1" x2="492.1" y2="432.5" stroke="#3a3a3a" stroke-width="2.4" stroke-linecap="round"/>
<line x1="514.02" y1="417.27" x2="491.76" y2="429.6" stroke="#555" stroke-width="2.5" stroke-linecap="butt"/>
<line x1="492.1" y1="432.5" x2="470" y2="419.1" stroke="#555" stroke-width="2.4" stroke-linecap="round"/>
<line x1="470" y1="419.1" x2="470" y2="394.4" stroke="#3a3a3a" stroke-width="2.4" stroke-linecap="round"/>
<line x1="473.2" y1="418.11" x2="473.2" y2="395.39" stroke="#777" stroke-width="3.4" stroke-linecap="butt"/>
<line x1="470" y1="394.4" x2="492.1" y2="381.8" stroke="#555" stroke-width="2.4" stroke-linecap="round"/>
<line x1="492.1" y1="381.8" x2="492.1" y2="361.5" stroke="#111" stroke-width="3.2" stroke-linecap="butt"/>
<text x="486.6" y="360.6" font-family="'Liberation Sans', Arial, sans-serif" font-size="11.5" font-weight="bold" text-anchor="start" fill="#222" textLength="20.5" lengthAdjust="spacingAndGlyphs" stroke="#222" stroke-width="0.5">CN</text>
<line x1="516.3" y1="394.7" x2="536" y2="394.7" stroke="#444" stroke-width="2.2" stroke-linecap="butt"/>
<path d="M525.29 365.8 H525.3 V416.9 H525.29" fill="none" stroke="#555" stroke-width="3.6"/>
<text x="531" y="417.4" font-family="'Liberation Sans', Arial, sans-serif" font-size="11" font-weight="bold" text-anchor="start" fill="#333">x</text>
<text x="541" y="399.2" font-family="'Liberation Sans', Arial, sans-serif" font-size="12.5" font-weight="bold" text-anchor="middle" fill="#444" stroke="#444" stroke-width="0.3">O</text>
<line x1="548.5" y1="394.7" x2="568.5" y2="394.7" stroke="#444" stroke-width="2.2" stroke-linecap="butt"/>
<path d="M561.4 365.2 H559.9 V417.7 H561.4" fill="none" stroke="#444" stroke-width="3"/>
<line x1="581.3" y1="372.1" x2="608.3" y2="372.1" stroke="#444" stroke-width="2.6" stroke-linecap="round"/>
<line x1="584" y1="374.9" x2="605.6" y2="374.9" stroke="#666" stroke-width="2.8" stroke-linecap="butt"/>
<line x1="608.3" y1="372.1" x2="621.2" y2="394.7" stroke="#555" stroke-width="2.6" stroke-linecap="round"/>
<line x1="621.2" y1="394.7" x2="608.3" y2="417.3" stroke="#444" stroke-width="2.5" stroke-linecap="round"/>
<line x1="618.25" y1="394.82" x2="606.9" y2="414.7" stroke="#5a5a5a" stroke-width="2.5" stroke-linecap="butt"/>
<line x1="608.3" y1="417.3" x2="581.3" y2="417.3" stroke="#444" stroke-width="2.6" stroke-linecap="round"/>
<line x1="581.3" y1="417.3" x2="568.4" y2="394.7" stroke="#444" stroke-width="2.5" stroke-linecap="round"/>
<line x1="582.7" y1="414.7" x2="571.35" y2="394.82" stroke="#5a5a5a" stroke-width="2.5" stroke-linecap="butt"/>
<line x1="568.4" y1="394.7" x2="581.3" y2="372.1" stroke="#555" stroke-width="2.6" stroke-linecap="round"/>
<line x1="621.2" y1="394.7" x2="645.2" y2="394.7" stroke="#444" stroke-width="2.2" stroke-linecap="butt"/>
<line x1="658.1" y1="372.1" x2="684.9" y2="372.1" stroke="#444" stroke-width="2.6" stroke-linecap="round"/>
<line x1="660.78" y1="374.9" x2="682.22" y2="374.9" stroke="#666" stroke-width="2.8" stroke-linecap="butt"/>
<line x1="684.9" y1="372.1" x2="697.8" y2="394.7" stroke="#555" stroke-width="2.6" stroke-linecap="round"/>
<line x1="697.8" y1="394.7" x2="684.9" y2="417.3" stroke="#444" stroke-width="2.5" stroke-linecap="round"/>
<line x1="694.85" y1="394.82" x2="683.5" y2="414.7" stroke="#5a5a5a" stroke-width="2.5" stroke-linecap="butt"/>
<line x1="684.9" y1="417.3" x2="658.1" y2="417.3" stroke="#444" stroke-width="2.6" stroke-linecap="round"/>
<line x1="658.1" y1="417.3" x2="645.2" y2="394.7" stroke="#444" stroke-width="2.5" stroke-linecap="round"/>
<line x1="659.5" y1="414.7" x2="648.15" y2="394.82" stroke="#5a5a5a" stroke-width="2.5" stroke-linecap="butt"/>
<line x1="645.2" y1="394.7" x2="658.1" y2="372.1" stroke="#555" stroke-width="2.6" stroke-linecap="round"/>
<line x1="697.8" y1="394.7" x2="716.5" y2="394.7" stroke="#444" stroke-width="2.2" stroke-linecap="butt"/>
<text x="722.7" y="399.2" font-family="'Liberation Sans', Arial, sans-serif" font-size="12.5" font-weight="bold" text-anchor="middle" fill="#444" stroke="#444" stroke-width="0.3">O</text>
<line x1="729.5" y1="394.7" x2="749" y2="394.7" stroke="#444" stroke-width="2.2" stroke-linecap="butt"/>
<line x1="760.9" y1="372.9" x2="790.3" y2="372.9" stroke="#444" stroke-width="2.6" stroke-linecap="round"/>
<line x1="763.84" y1="375.7" x2="787.36" y2="375.7" stroke="#666" stroke-width="2.8" stroke-linecap="butt"/>
<line x1="790.3" y1="372.9" x2="802.2" y2="394.7" stroke="#555" stroke-width="2.6" stroke-linecap="round"/>
<line x1="802.2" y1="394.7" x2="790.3" y2="416.5" stroke="#444" stroke-width="2.5" stroke-linecap="round"/>
<line x1="799.29" y1="394.81" x2="788.82" y2="413.99" stroke="#5a5a5a" stroke-width="2.5" stroke-linecap="butt"/>
<line x1="790.3" y1="416.5" x2="760.9" y2="416.5" stroke="#444" stroke-width="2.6" stroke-linecap="round"/>
<line x1="760.9" y1="416.5" x2="749" y2="394.7" stroke="#444" stroke-width="2.5" stroke-linecap="round"/>
<line x1="762.38" y1="413.99" x2="751.91" y2="394.81" stroke="#5a5a5a" stroke-width="2.5" stroke-linecap="butt"/>
<line x1="749" y1="394.7" x2="760.9" y2="372.9" stroke="#555" stroke-width="2.6" stroke-linecap="round"/>
<line x1="760.9" y1="416.5" x2="753.3" y2="432.8" stroke="#555" stroke-width="2.4" stroke-linecap="butt"/>
<text x="715" y="444.7" font-family="'Liberation Sans', Arial, sans-serif" font-size="14" font-weight="bold" fill="#333" stroke="#333" stroke-width="0.2" text-anchor="start" textLength="38.3" lengthAdjust="spacingAndGlyphs"><tspan dy="0">HO</tspan><tspan dy="3.64" font-size="8.96">3</tspan><tspan dy="-3.64">S</tspan></text>
<line x1="802.2" y1="394.7" x2="821" y2="394.7" stroke="#444" stroke-width="2.2" stroke-linecap="butt"/>
<text x="826" y="399.2" font-family="'Liberation Sans', Arial, sans-serif" font-size="12.5" font-weight="bold" text-anchor="middle" fill="#444" stroke="#444" stroke-width="0.3">S</text>
<text x="826" y="372.5" font-family="'Liberation Sans', Arial, sans-serif" font-size="12.5" font-weight="bold" text-anchor="middle" fill="#444" stroke="#444" stroke-width="0.3">O</text>
<text x="826" y="424.3" font-family="'Liberation Sans', Arial, sans-serif" font-size="12.5" font-weight="bold" text-anchor="middle" fill="#444" stroke="#444" stroke-width="0.3">O</text>
<line x1="826" y1="377.2" x2="826" y2="388.2" stroke="#666" stroke-width="4.8" stroke-linecap="butt"/>
<line x1="826" y1="401.6" x2="826" y2="413.8" stroke="#666" stroke-width="4.8" stroke-linecap="butt"/>
<line x1="831" y1="394.7" x2="852.2" y2="394.7" stroke="#444" stroke-width="2.2" stroke-linecap="butt"/>
<line x1="865.4" y1="371.9" x2="893" y2="371.9" stroke="#444" stroke-width="2.6" stroke-linecap="round"/>
<line x1="868.16" y1="374.7" x2="890.24" y2="374.7" stroke="#666" stroke-width="2.8" stroke-linecap="butt"/>
<line x1="893" y1="371.9" x2="906.2" y2="394.7" stroke="#555" stroke-width="2.6" stroke-linecap="round"/>
<line x1="906.2" y1="394.7" x2="893" y2="417.5" stroke="#444" stroke-width="2.5" stroke-linecap="round"/>
<line x1="903.24" y1="394.82" x2="891.63" y2="414.88" stroke="#5a5a5a" stroke-width="2.5" stroke-linecap="butt"/>
<line x1="893" y1="417.5" x2="865.4" y2="417.5" stroke="#444" stroke-width="2.6" stroke-linecap="round"/>
<line x1="865.4" y1="417.5" x2="852.2" y2="394.7" stroke="#444" stroke-width="2.5" stroke-linecap="round"/>
<line x1="866.77" y1="414.88" x2="855.16" y2="394.82" stroke="#5a5a5a" stroke-width="2.5" stroke-linecap="butt"/>
<line x1="852.2" y1="394.7" x2="865.4" y2="371.9" stroke="#555" stroke-width="2.6" stroke-linecap="round"/>
<line x1="893" y1="371.9" x2="900.9" y2="356.4" stroke="#555" stroke-width="2.4" stroke-linecap="butt"/>
<text x="899.6" y="355" font-family="'Liberation Sans', Arial, sans-serif" font-size="13.5" font-weight="bold" fill="#222" stroke="#222" stroke-width="0.2" text-anchor="start" textLength="39.5" lengthAdjust="spacingAndGlyphs"><tspan dy="0">SO</tspan><tspan dy="3.51" font-size="8.64">3</tspan><tspan dy="-3.51">H</tspan></text>
<line x1="906.2" y1="394.7" x2="932.6" y2="394.7" stroke="#444" stroke-width="2.2" stroke-linecap="butt"/>
<path d="M916.9 365.6 H919.4 V417 H916.9" fill="none" stroke="#555" stroke-width="3"/>
<text x="923" y="417" font-family="'Liberation Serif', 'Times New Roman', serif" font-size="13" font-weight="bold" text-anchor="start" fill="#333" font-style="italic">y</text>
<text x="444" y="476.6" font-family="'Liberation Sans', Arial, sans-serif" font-size="24" font-weight="bold" text-anchor="start" fill="#111" textLength="230" lengthAdjust="spacingAndGlyphs" stroke="#111" stroke-width="0.9">6FPAEB-BPSH100</text>
<g>
<polyline points="242.2,574.55 247.56,603.5 284.22,629.51 370.58,662.31 483.58,693.93 585.5,721.11 663.99,754.21 718.7,781.63 756.7,811.24 781.01,840.79 795.59,870.81" fill="none" stroke="#f00" stroke-width="2.35" stroke-linejoin="round"/>
<polyline points="242.2,991.2 247.56,982.72 284.22,929.24 370.58,819.07 483.58,698.67 585.5,613.2 663.99,583.68 718.7,584.09 756.7,613.73 781.01,660.8 795.59,719.6" fill="none" stroke="#f00" stroke-width="2.35" stroke-linejoin="round"/>
<path d="M242.2 569.05L247.7 574.55L242.2 580.05L236.7 574.55Z" fill="#f00"/>
<path d="M247.56 598L253.06 603.5L247.56 609L242.06 603.5Z" fill="#f00"/>
<path d="M284.22 624.01L289.72 629.51L284.22 635.01L278.72 629.51Z" fill="#f00"/>
<path d="M370.58 656.81L376.08 662.31L370.58 667.81L365.08 662.31Z" fill="#f00"/>
<path d="M483.58 688.43L489.08 693.93L483.58 699.43L478.08 693.93Z" fill="#f00"/>
<path d="M585.5 715.61L591 721.11L585.5 726.61L580 721.11Z" fill="#f00"/>
<path d="M663.99 748.71L669.49 754.21L663.99 759.71L658.49 754.21Z" fill="#f00"/>
<path d="M718.7 776.13L724.2 781.63L718.7 787.13L713.2 781.63Z" fill="#f00"/>
<path d="M756.7 805.74L762.2 811.24L756.7 816.74L751.2 811.24Z" fill="#f00"/>
<path d="M781.01 835.29L786.51 840.79L781.01 846.29L775.51 840.79Z" fill="#f00"/>
<path d="M795.59 865.31L801.09 870.81L795.59 876.31L790.09 870.81Z" fill="#f00"/>
<path d="M242.2 985.7L247.7 991.2L242.2 996.7L236.7 991.2Z" fill="#f00"/>
<path d="M247.56 977.22L253.06 982.72L247.56 988.22L242.06 982.72Z" fill="#f00"/>
<path d="M284.22 923.74L289.72 929.24L284.22 934.74L278.72 929.24Z" fill="#f00"/>
<path d="M370.58 813.57L376.08 819.07L370.58 824.57L365.08 819.07Z" fill="#f00"/>
<path d="M483.58 693.17L489.08 698.67L483.58 704.17L478.08 698.67Z" fill="#f00"/>
<path d="M585.5 607.7L591 613.2L585.5 618.7L580 613.2Z" fill="#f00"/>
<path d="M663.99 578.18L669.49 583.68L663.99 589.18L658.49 583.68Z" fill="#f00"/>
<path d="M718.7 578.59L724.2 584.09L718.7 589.59L713.2 584.09Z" fill="#f00"/>
<path d="M756.7 608.23L762.2 613.73L756.7 619.23L751.2 613.73Z" fill="#f00"/>
<path d="M781.01 655.3L786.51 660.8L781.01 666.3L775.51 660.8Z" fill="#f00"/>
<path d="M795.59 714.1L801.09 719.6L795.59 725.1L790.09 719.6Z" fill="#f00"/>
<polyline points="242.2,552.09 243.99,578.09 254.72,605.87 302.1,632.46 392.39,663.19 503.25,693.93 614.1,723.48 699.93,752.67 762.51,783.46 792.01,812.72 813.47,841.97 825.09,871.23" fill="none" stroke="#00f" stroke-width="2.35" stroke-linejoin="round"/>
<polyline points="242.2,991.2 243.99,988.19 254.72,971.54 302.1,903.6 392.39,790.36 503.25,674.83 614.1,585.28 699.93,546.09 762.51,550.55 792.01,591.14 813.47,643.66 825.09,706.11" fill="none" stroke="#00f" stroke-width="2.35" stroke-linejoin="round"/>
<rect x="236.7" y="546.09" width="11" height="12" fill="#00f"/>
<rect x="238.49" y="572.09" width="11" height="12" fill="#00f"/>
<rect x="249.22" y="599.87" width="11" height="12" fill="#00f"/>
<rect x="296.6" y="626.46" width="11" height="12" fill="#00f"/>
<rect x="386.89" y="657.19" width="11" height="12" fill="#00f"/>
<rect x="497.75" y="687.93" width="11" height="12" fill="#00f"/>
<rect x="608.6" y="717.48" width="11" height="12" fill="#00f"/>
<rect x="694.43" y="746.67" width="11" height="12" fill="#00f"/>
<rect x="757.01" y="777.46" width="11" height="12" fill="#00f"/>
<rect x="786.51" y="806.72" width="11" height="12" fill="#00f"/>
<rect x="807.97" y="835.97" width="11" height="12" fill="#00f"/>
<rect x="819.59" y="865.23" width="11" height="12" fill="#00f"/>
<rect x="236.7" y="985.2" width="11" height="12" fill="#00f"/>
<rect x="238.49" y="982.19" width="11" height="12" fill="#00f"/>
<rect x="249.22" y="965.54" width="11" height="12" fill="#00f"/>
<rect x="296.6" y="897.6" width="11" height="12" fill="#00f"/>
<rect x="386.89" y="784.36" width="11" height="12" fill="#00f"/>
<rect x="497.75" y="668.83" width="11" height="12" fill="#00f"/>
<rect x="608.6" y="579.28" width="11" height="12" fill="#00f"/>
<rect x="694.43" y="540.09" width="11" height="12" fill="#00f"/>
<rect x="757.01" y="544.55" width="11" height="12" fill="#00f"/>
<rect x="786.51" y="585.14" width="11" height="12" fill="#00f"/>
<rect x="807.97" y="637.66" width="11" height="12" fill="#00f"/>
<rect x="819.59" y="700.11" width="11" height="12" fill="#00f"/>
<polyline points="242.2,546.77 243.09,565.68 257.13,597 285.11,633.64 358.42,663.19 467.49,692.15 578.34,722.53 671.77,752.67 737.21,782.28 776.81,811.83 806.31,841.5 814.36,871.23" fill="none" stroke="#008000" stroke-width="2.35" stroke-linejoin="round"/>
<polyline points="242.2,991.2 243.09,989.65 257.13,967.21 285.11,928.65 358.42,835.79 467.49,716.54 578.34,623.02 671.77,573.48 737.21,569.59 776.81,600.26 806.31,646.92 814.36,711.35" fill="none" stroke="#008000" stroke-width="2.35" stroke-linejoin="round"/>
<path d="M242.2 539.57L249.2 546.77L242.2 553.97L235.2 546.77Z" fill="#008000"/>
<path d="M243.09 558.48L250.09 565.68L243.09 572.88L236.09 565.68Z" fill="#008000"/>
<path d="M257.13 589.8L264.13 597L257.13 604.2L250.13 597Z" fill="#008000"/>
<path d="M285.11 626.44L292.11 633.64L285.11 640.85L278.11 633.64Z" fill="#008000"/>
<path d="M358.42 655.99L365.42 663.19L358.42 670.39L351.42 663.19Z" fill="#008000"/>
<path d="M467.49 684.95L474.49 692.15L467.49 699.35L460.49 692.15Z" fill="#008000"/>
<path d="M578.34 715.33L585.34 722.53L578.34 729.73L571.34 722.53Z" fill="#008000"/>
<path d="M671.77 745.47L678.77 752.67L671.77 759.87L664.77 752.67Z" fill="#008000"/>
<path d="M737.21 775.08L744.21 782.28L737.21 789.48L730.21 782.28Z" fill="#008000"/>
<path d="M776.81 804.63L783.81 811.83L776.81 819.03L769.81 811.83Z" fill="#008000"/>
<path d="M806.31 834.3L813.31 841.5L806.31 848.7L799.31 841.5Z" fill="#008000"/>
<path d="M814.36 864.03L821.36 871.23L814.36 878.43L807.36 871.23Z" fill="#008000"/>
<path d="M242.2 984L249.2 991.2L242.2 998.4L235.2 991.2Z" fill="#008000"/>
<path d="M243.09 982.45L250.09 989.65L243.09 996.85L236.09 989.65Z" fill="#008000"/>
<path d="M257.13 960.01L264.13 967.21L257.13 974.41L250.13 967.21Z" fill="#008000"/>
<path d="M285.11 921.45L292.11 928.65L285.11 935.85L278.11 928.65Z" fill="#008000"/>
<path d="M358.42 828.59L365.42 835.79L358.42 842.99L351.42 835.79Z" fill="#008000"/>
<path d="M467.49 709.34L474.49 716.54L467.49 723.74L460.49 716.54Z" fill="#008000"/>
<path d="M578.34 615.82L585.34 623.02L578.34 630.22L571.34 623.02Z" fill="#008000"/>
<path d="M671.77 566.28L678.77 573.48L671.77 580.68L664.77 573.48Z" fill="#008000"/>
<path d="M737.21 562.39L744.21 569.59L737.21 576.79L730.21 569.59Z" fill="#008000"/>
<path d="M776.81 593.06L783.81 600.26L776.81 607.46L769.81 600.26Z" fill="#008000"/>
<path d="M806.31 639.72L813.31 646.92L806.31 654.12L799.31 646.92Z" fill="#008000"/>
<path d="M814.36 704.15L821.36 711.35L814.36 718.55L807.36 711.35Z" fill="#008000"/>
<polyline points="242.2,545 242.2,555.63 248.99,570.41 254.36,604.69 271.7,633.64 341.43,663.19 456.76,705.16 561.36,734.29 644.5,759.71 695.19,783.17 718.7,808.88 739.26,841.09 759.83,876.55" fill="none" stroke="#000" stroke-width="2" stroke-linejoin="round" stroke-dasharray="10,6"/>
<polyline points="242.2,991.2 242.2,991.2 248.99,979.54 254.36,972.04 271.7,948.2 341.43,858.5 456.76,740.99 561.36,656.93 644.5,611.53 695.19,607.02 718.7,637.02 739.26,687 759.83,749.25" fill="none" stroke="#000" stroke-width="2" stroke-linejoin="round" stroke-dasharray="10,6"/>
<circle cx="242.2" cy="545" r="4.9" fill="#fff" stroke="#000" stroke-width="1.9"/>
<circle cx="242.2" cy="555.63" r="4.9" fill="#fff" stroke="#000" stroke-width="1.9"/>
<circle cx="248.99" cy="570.41" r="4.9" fill="#fff" stroke="#000" stroke-width="1.9"/>
<circle cx="254.36" cy="604.69" r="4.9" fill="#fff" stroke="#000" stroke-width="1.9"/>
<circle cx="271.7" cy="633.64" r="4.9" fill="#fff" stroke="#000" stroke-width="1.9"/>
<circle cx="341.43" cy="663.19" r="4.9" fill="#fff" stroke="#000" stroke-width="1.9"/>
<circle cx="456.76" cy="705.16" r="4.9" fill="#fff" stroke="#000" stroke-width="1.9"/>
<circle cx="561.36" cy="734.29" r="4.9" fill="#fff" stroke="#000" stroke-width="1.9"/>
<circle cx="644.5" cy="759.71" r="4.9" fill="#fff" stroke="#000" stroke-width="1.9"/>
<circle cx="695.19" cy="783.17" r="4.9" fill="#fff" stroke="#000" stroke-width="1.9"/>
<circle cx="718.7" cy="808.88" r="4.9" fill="#fff" stroke="#000" stroke-width="1.9"/>
<circle cx="739.26" cy="841.09" r="4.9" fill="#fff" stroke="#000" stroke-width="1.9"/>
<circle cx="759.83" cy="876.55" r="4.9" fill="#fff" stroke="#000" stroke-width="1.9"/>
<circle cx="248.99" cy="979.54" r="4.9" fill="#fff" stroke="#000" stroke-width="1.9"/>
<circle cx="254.36" cy="972.04" r="4.9" fill="#fff" stroke="#000" stroke-width="1.9"/>
<circle cx="271.7" cy="948.2" r="4.9" fill="#fff" stroke="#000" stroke-width="1.9"/>
<circle cx="341.43" cy="858.5" r="4.9" fill="#fff" stroke="#000" stroke-width="1.9"/>
<circle cx="456.76" cy="740.99" r="4.9" fill="#fff" stroke="#000" stroke-width="1.9"/>
<circle cx="561.36" cy="656.93" r="4.9" fill="#fff" stroke="#000" stroke-width="1.9"/>
<circle cx="644.5" cy="611.53" r="4.9" fill="#fff" stroke="#000" stroke-width="1.9"/>
<circle cx="695.19" cy="607.02" r="4.9" fill="#fff" stroke="#000" stroke-width="1.9"/>
<circle cx="718.7" cy="637.02" r="4.9" fill="#fff" stroke="#000" stroke-width="1.9"/>
<circle cx="739.26" cy="687" r="4.9" fill="#fff" stroke="#000" stroke-width="1.9"/>
<circle cx="759.83" cy="749.25" r="4.9" fill="#fff" stroke="#000" stroke-width="1.9"/>
</g>
<rect x="233.2" y="518.4" width="635.2" height="472.8" fill="none" stroke="#000" stroke-width="3.4"/>
<line x1="224" y1="991.2" x2="233.2" y2="991.2" stroke="#000" stroke-width="2.6" stroke-linecap="butt"/>
<text x="216.5" y="998.8" font-family="'Liberation Sans', Arial, sans-serif" font-size="23" font-weight="bold" text-anchor="end" fill="#000" textLength="30.3" lengthAdjust="spacingAndGlyphs">0.0</text>
<line x1="224" y1="932.1" x2="233.2" y2="932.1" stroke="#000" stroke-width="2.6" stroke-linecap="butt"/>
<text x="216.5" y="939.7" font-family="'Liberation Sans', Arial, sans-serif" font-size="23" font-weight="bold" text-anchor="end" fill="#000" textLength="30.3" lengthAdjust="spacingAndGlyphs">0.1</text>
<line x1="224" y1="873" x2="233.2" y2="873" stroke="#000" stroke-width="2.6" stroke-linecap="butt"/>
<text x="216.5" y="880.6" font-family="'Liberation Sans', Arial, sans-serif" font-size="23" font-weight="bold" text-anchor="end" fill="#000" textLength="30.3" lengthAdjust="spacingAndGlyphs">0.2</text>
<line x1="224" y1="813.9" x2="233.2" y2="813.9" stroke="#000" stroke-width="2.6" stroke-linecap="butt"/>
<text x="216.5" y="821.5" font-family="'Liberation Sans', Arial, sans-serif" font-size="23" font-weight="bold" text-anchor="end" fill="#000" textLength="30.3" lengthAdjust="spacingAndGlyphs">0.3</text>
<line x1="224" y1="754.8" x2="233.2" y2="754.8" stroke="#000" stroke-width="2.6" stroke-linecap="butt"/>
<text x="216.5" y="762.4" font-family="'Liberation Sans', Arial, sans-serif" font-size="23" font-weight="bold" text-anchor="end" fill="#000" textLength="30.3" lengthAdjust="spacingAndGlyphs">0.4</text>
<line x1="224" y1="695.7" x2="233.2" y2="695.7" stroke="#000" stroke-width="2.6" stroke-linecap="butt"/>
<text x="216.5" y="703.3" font-family="'Liberation Sans', Arial, sans-serif" font-size="23" font-weight="bold" text-anchor="end" fill="#000" textLength="30.3" lengthAdjust="spacingAndGlyphs">0.5</text>
<line x1="224" y1="636.6" x2="233.2" y2="636.6" stroke="#000" stroke-width="2.6" stroke-linecap="butt"/>
<text x="216.5" y="644.2" font-family="'Liberation Sans', Arial, sans-serif" font-size="23" font-weight="bold" text-anchor="end" fill="#000" textLength="30.3" lengthAdjust="spacingAndGlyphs">0.6</text>
<line x1="224" y1="577.5" x2="233.2" y2="577.5" stroke="#000" stroke-width="2.6" stroke-linecap="butt"/>
<text x="216.5" y="585.1" font-family="'Liberation Sans', Arial, sans-serif" font-size="23" font-weight="bold" text-anchor="end" fill="#000" textLength="30.3" lengthAdjust="spacingAndGlyphs">0.7</text>
<line x1="224" y1="518.4" x2="233.2" y2="518.4" stroke="#000" stroke-width="2.6" stroke-linecap="butt"/>
<text x="216.5" y="526" font-family="'Liberation Sans', Arial, sans-serif" font-size="23" font-weight="bold" text-anchor="end" fill="#000" textLength="30.3" lengthAdjust="spacingAndGlyphs">0.8</text>
<line x1="868.4" y1="991.2" x2="877" y2="991.2" stroke="#000" stroke-width="2.6" stroke-linecap="butt"/>
<text x="886.3" y="1000.6" font-family="'Liberation Sans', Arial, sans-serif" font-size="23" font-weight="bold" text-anchor="start" fill="#000" textLength="42.4" lengthAdjust="spacingAndGlyphs">0.00</text>
<line x1="868.4" y1="883.5" x2="877" y2="883.5" stroke="#000" stroke-width="2.6" stroke-linecap="butt"/>
<text x="886.3" y="892.9" font-family="'Liberation Sans', Arial, sans-serif" font-size="23" font-weight="bold" text-anchor="start" fill="#000" textLength="42.4" lengthAdjust="spacingAndGlyphs">0.05</text>
<line x1="868.4" y1="775.8" x2="877" y2="775.8" stroke="#000" stroke-width="2.6" stroke-linecap="butt"/>
<text x="886.3" y="785.2" font-family="'Liberation Sans', Arial, sans-serif" font-size="23" font-weight="bold" text-anchor="start" fill="#000" textLength="42.4" lengthAdjust="spacingAndGlyphs">0.10</text>
<line x1="868.4" y1="668.1" x2="877" y2="668.1" stroke="#000" stroke-width="2.6" stroke-linecap="butt"/>
<text x="886.3" y="677.5" font-family="'Liberation Sans', Arial, sans-serif" font-size="23" font-weight="bold" text-anchor="start" fill="#000" textLength="42.4" lengthAdjust="spacingAndGlyphs">0.15</text>
<line x1="868.4" y1="560.4" x2="877" y2="560.4" stroke="#000" stroke-width="2.6" stroke-linecap="butt"/>
<text x="886.3" y="569.8" font-family="'Liberation Sans', Arial, sans-serif" font-size="23" font-weight="bold" text-anchor="start" fill="#000" textLength="42.4" lengthAdjust="spacingAndGlyphs">0.20</text>
<line x1="242.2" y1="991.2" x2="242.2" y2="1000" stroke="#000" stroke-width="2.6" stroke-linecap="butt"/>
<text x="242.2" y="1029.8" font-family="'Liberation Sans', Arial, sans-serif" font-size="23" font-weight="bold" text-anchor="middle" fill="#000" textLength="29.8" lengthAdjust="spacingAndGlyphs">0.0</text>
<line x1="331.6" y1="991.2" x2="331.6" y2="1000" stroke="#000" stroke-width="2.6" stroke-linecap="butt"/>
<text x="331.6" y="1029.8" font-family="'Liberation Sans', Arial, sans-serif" font-size="23" font-weight="bold" text-anchor="middle" fill="#000" textLength="29.8" lengthAdjust="spacingAndGlyphs">0.1</text>
<line x1="421" y1="991.2" x2="421" y2="1000" stroke="#000" stroke-width="2.6" stroke-linecap="butt"/>
<text x="421" y="1029.8" font-family="'Liberation Sans', Arial, sans-serif" font-size="23" font-weight="bold" text-anchor="middle" fill="#000" textLength="29.8" lengthAdjust="spacingAndGlyphs">0.2</text>
<line x1="510.4" y1="991.2" x2="510.4" y2="1000" stroke="#000" stroke-width="2.6" stroke-linecap="butt"/>
<text x="510.4" y="1029.8" font-family="'Liberation Sans', Arial, sans-serif" font-size="23" font-weight="bold" text-anchor="middle" fill="#000" textLength="29.8" lengthAdjust="spacingAndGlyphs">0.3</text>
<line x1="599.8" y1="991.2" x2="599.8" y2="1000" stroke="#000" stroke-width="2.6" stroke-linecap="butt"/>
<text x="599.8" y="1029.8" font-family="'Liberation Sans', Arial, sans-serif" font-size="23" font-weight="bold" text-anchor="middle" fill="#000" textLength="29.8" lengthAdjust="spacingAndGlyphs">0.4</text>
<line x1="689.2" y1="991.2" x2="689.2" y2="1000" stroke="#000" stroke-width="2.6" stroke-linecap="butt"/>
<text x="689.2" y="1029.8" font-family="'Liberation Sans', Arial, sans-serif" font-size="23" font-weight="bold" text-anchor="middle" fill="#000" textLength="29.8" lengthAdjust="spacingAndGlyphs">0.5</text>
<line x1="778.6" y1="991.2" x2="778.6" y2="1000" stroke="#000" stroke-width="2.6" stroke-linecap="butt"/>
<text x="778.6" y="1029.8" font-family="'Liberation Sans', Arial, sans-serif" font-size="23" font-weight="bold" text-anchor="middle" fill="#000" textLength="29.8" lengthAdjust="spacingAndGlyphs">0.6</text>
<line x1="868" y1="991.2" x2="868" y2="1000" stroke="#000" stroke-width="2.6" stroke-linecap="butt"/>
<text x="868" y="1029.8" font-family="'Liberation Sans', Arial, sans-serif" font-size="23" font-weight="bold" text-anchor="middle" fill="#000" textLength="29.8" lengthAdjust="spacingAndGlyphs">0.7</text>
<line x1="233.2" y1="991.2" x2="233.2" y2="995" stroke="#000" stroke-width="3" stroke-linecap="butt"/>
<text x="550.6" y="1078.4" font-family="'Liberation Sans', Arial, sans-serif" font-size="24.5" font-weight="bold" text-anchor="middle" fill="#000">Current Density (A cm<tspan font-size="16.5" dy="-12.3">-2</tspan><tspan dy="12.3">)</tspan></text>
<text transform="translate(168.5 754.3) rotate(-90)" x="0" y="0" font-family="'Liberation Sans', Arial, sans-serif" font-size="25" font-weight="bold" text-anchor="middle" fill="#000" textLength="136.6" lengthAdjust="spacingAndGlyphs">Voltage (V)</text>
<text transform="translate(972.3 752.9) rotate(-90)" x="0" y="0" font-family="'Liberation Sans', Arial, sans-serif" font-size="25" font-weight="bold" text-anchor="middle" fill="#000" textLength="287.8" lengthAdjust="spacingAndGlyphs">Power Density (W cm<tspan font-size="17" dy="-14.2">-2</tspan><tspan dy="14.2">)</tspan></text>
<line x1="297.4" y1="684.4" x2="361.8" y2="684.4" stroke="#000" stroke-width="1.6" stroke-linecap="butt"/>
<line x1="297.4" y1="684.4" x2="327.9" y2="675" stroke="#000" stroke-width="1.4" stroke-linecap="butt"/>
<line x1="297.4" y1="684.4" x2="327.9" y2="693.8" stroke="#000" stroke-width="1.4" stroke-linecap="butt"/>
<path d="M297.4 684.4 L305.4 682.2 L305.4 686.6 Z" fill="#000"/>
<line x1="614.2" y1="653.4" x2="679" y2="653.4" stroke="#000" stroke-width="1.6" stroke-linecap="butt"/>
<line x1="679" y1="653.4" x2="648.5" y2="644" stroke="#000" stroke-width="1.4" stroke-linecap="butt"/>
<line x1="679" y1="653.4" x2="648.5" y2="662.8" stroke="#000" stroke-width="1.4" stroke-linecap="butt"/>
<path d="M679 653.4 L671 651.2 L671 655.6 Z" fill="#000"/>
<line x1="401.8" y1="833.2" x2="463.5" y2="833.2" stroke="#f00" stroke-width="3" stroke-linecap="butt"/>
<path d="M433.8 827.2L437.8 833.2L433.8 839.2L429.8 833.2Z" fill="#f00"/>
<text x="477.3" y="841.6" font-family="'Liberation Sans', Arial, sans-serif" font-size="24.3" font-weight="bold" text-anchor="start" fill="#000" textLength="195" lengthAdjust="spacingAndGlyphs">6FBPS-BPSH100</text>
<line x1="401.8" y1="866.3" x2="463.5" y2="866.3" stroke="#00f" stroke-width="3" stroke-linecap="butt"/>
<rect x="428.8" y="860.3" width="10" height="12" fill="#00f"/>
<text x="477.3" y="874.4" font-family="'Liberation Sans', Arial, sans-serif" font-size="24.3" font-weight="bold" text-anchor="start" fill="#000" textLength="163" lengthAdjust="spacingAndGlyphs">6FK-BPSH100</text>
<line x1="401.8" y1="898.9" x2="463.5" y2="898.9" stroke="#008000" stroke-width="3" stroke-linecap="butt"/>
<path d="M433.8 890.3L439.6 898.9L433.8 907.5L428 898.9Z" fill="#008000"/>
<text x="477.3" y="907.2" font-family="'Liberation Sans', Arial, sans-serif" font-size="24.3" font-weight="bold" text-anchor="start" fill="#000" textLength="210.4" lengthAdjust="spacingAndGlyphs">6FPAEB-BPSH100</text>
<line x1="402" y1="934.5" x2="416.5" y2="934.5" stroke="#000" stroke-width="2.4" stroke-linecap="butt"/>
<line x1="423" y1="934.5" x2="457.5" y2="934.5" stroke="#000" stroke-width="2.4" stroke-linecap="butt"/>
<circle cx="433.8" cy="934.5" r="4.9" fill="#fff" stroke="#000" stroke-width="1.9"/>
<text x="477.8" y="943.6" font-family="'Liberation Sans', Arial, sans-serif" font-size="24.3" font-weight="bold" fill="#000">Nafion<tspan font-size="15" dy="-13">®</tspan><tspan dy="13"> 212</tspan></text>
<text x="694.6" y="971.3" font-family="'Liberation Sans', Arial, sans-serif" font-size="18.5" font-weight="normal" fill="#111" stroke="#111" stroke-width="0.45" textLength="136" lengthAdjust="spacingAndGlyphs">0.5 M MeOH  80</text>
<text x="832" y="971.3" font-family="'Liberation Sans', Arial, sans-serif" font-size="18.5" fill="#111" stroke="#111" stroke-width="0.45"><tspan font-size="12" dy="-9">o</tspan><tspan dy="9">C</tspan></text>
</svg>
</body></html>
